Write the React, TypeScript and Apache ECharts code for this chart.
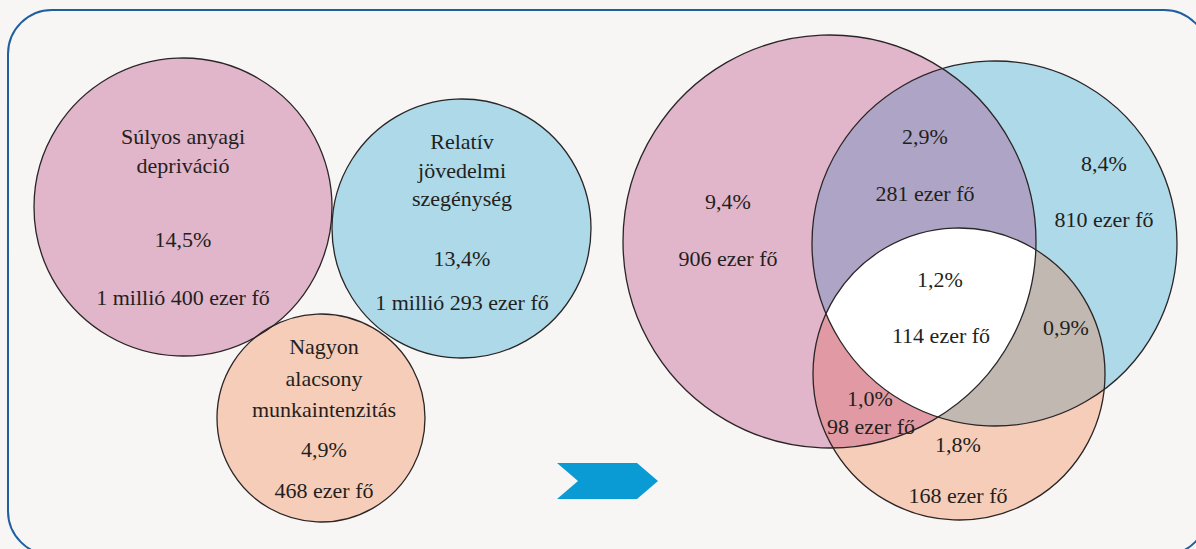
import React, { useEffect, useRef } from "react";
import * as echarts from "echarts";

// ---- data ----
const setNames = [
  ["Súlyos anyagi", "depriváció"],
  ["Relatív", "jövedelmi", "szegénység"],
  ["Nagyon", "alacsony", "munkaintenzitás"],
];
const setPercents = ["14,5%", "13,4%", "4,9%"];
const setCounts = ["1 millió 400 ezer fő", "1 millió 293 ezer fő", "468 ezer fő"];

// regions of the overlap diagram: which sets (0 = anyagi depriváció, 1 = jövedelmi szegénység, 2 = munkaintenzitás)
const regionSets = [[0], [1], [2], [0, 1], [0, 2], [1, 2], [0, 1, 2]];
const regionPercents = ["9,4%", "8,4%", "1,8%", "2,9%", "1,0%", "0,9%", "1,2%"];
const regionCounts = ["906 ezer fő", "810 ezer fő", "168 ezer fő", "281 ezer fő", "98 ezer fő", "", "114 ezer fő"];

// ---- layout (axis units = pixels) ----
const LEFT_CIRCLES = [
  [183, 207, 149],
  [461.5, 228.5, 129.5],
  [321, 418, 104],
];
const RIGHT_CIRCLES = [
  [829.5, 241.5, 206.5],
  [994.5, 243.5, 182.5],
  [959, 374, 146],
];
const SET_COLORS = ["#e1b5ca", "#add9e9", "#f6cdb8"];
const REGION_COLORS = ["", "", "", "#ada4c6", "#e19aa3", "#c1b9b1", "#ffffff"];

const LEFT_LABEL_POS = [
  { x: 183, names: [136, 165], pct: 239, cnt: 297 },
  { x: 462, names: [141, 170, 198], pct: 258, cnt: 302 },
  { x: 324, names: [346, 378, 409], pct: 449, cnt: 490 },
];
const RIGHT_LABEL_POS = [
  { pct: [728, 201], cnt: [728, 258] },
  { pct: [1104, 163], cnt: [1104, 219] },
  { pct: [958, 444], cnt: [958, 495] },
  { pct: [925, 136], cnt: [925, 193] },
  { pct: [870, 398], cnt: [871, 426] },
  { pct: [1066, 327], cnt: [0, 0] },
  { pct: [940, 279], cnt: [941, 335] },
];

const TEXT_COLOR = "#231f20";
const STROKE = "#2a2526";
const FONT = "'Liberation Serif', 'Times New Roman', 'DejaVu Serif', serif";

function regionPoints(cs: number[][]): number[][] {
  const pts: number[][] = [];
  const N = 1440;
  cs.forEach((c, i) => {
    for (let k = 0; k < N; k++) {
      const t = (2 * Math.PI * k) / N;
      const x = c[0] + c[2] * Math.cos(t);
      const y = c[1] + c[2] * Math.sin(t);
      let ok = true;
      for (let j = 0; j < cs.length; j++) {
        if (j === i) continue;
        const d = cs[j];
        if (Math.hypot(x - d[0], y - d[1]) > d[2] + 1e-6) {
          ok = false;
          break;
        }
      }
      if (ok) pts.push([x, y]);
    }
  });
  let mx = 0,
    my = 0;
  pts.forEach((p) => {
    mx += p[0];
    my += p[1];
  });
  mx /= pts.length;
  my /= pts.length;
  pts.sort((a, b) => Math.atan2(a[1] - my, a[0] - mx) - Math.atan2(b[1] - my, b[0] - mx));
  return pts;
}

type Fill = { kind: "circle"; c: number[]; color: string } | { kind: "poly"; pts: number[][]; color: string };

export default function App() {
  const ref = useRef<HTMLDivElement>(null);
  useEffect(() => {
    if (!ref.current) return;
    const chart = echarts.init(ref.current, undefined, { renderer: "svg" });

    const fills: Fill[] = [];
    LEFT_CIRCLES.forEach((c, i) => fills.push({ kind: "circle", c, color: SET_COLORS[i] }));
    RIGHT_CIRCLES.forEach((c, i) => fills.push({ kind: "circle", c, color: SET_COLORS[i] }));
    regionSets.forEach((s, i) => {
      if (s.length > 1) {
        fills.push({ kind: "poly", pts: regionPoints(s.map((k) => RIGHT_CIRCLES[k])), color: REGION_COLORS[i] });
      }
    });
    const outlines = [...LEFT_CIRCLES, ...RIGHT_CIRCLES];

    type Lbl = { text: string; x: number; y: number };
    const labels: Lbl[] = [];
    setNames.forEach((lines, i) => {
      const p = LEFT_LABEL_POS[i];
      lines.forEach((t, k) => labels.push({ text: t, x: p.x, y: p.names[k] }));
      labels.push({ text: setPercents[i], x: p.x, y: p.pct });
      labels.push({ text: setCounts[i], x: p.x, y: p.cnt });
    });
    regionSets.forEach((_, i) => {
      const p = RIGHT_LABEL_POS[i];
      labels.push({ text: regionPercents[i], x: p.pct[0], y: p.pct[1] });
      if (regionCounts[i]) labels.push({ text: regionCounts[i], x: p.cnt[0], y: p.cnt[1] });
    });

    const option: any = {
      animation: false,
      backgroundColor: "#f7f6f4",
      textStyle: { fontFamily: FONT },
      grid: { left: 0, right: 0, top: 0, bottom: 0 },
      xAxis: { type: "value", min: 0, max: 1196, show: false },
      yAxis: { type: "value", min: 0, max: 549, inverse: true, show: false },
      graphic: [
        {
          type: "rect",
          shape: { x: 8, y: 10, width: 1200, height: 545, r: 44 },
          style: { fill: "none", stroke: "#1f5fa0", lineWidth: 2 },
          silent: true,
          z: -10,
        },
        {
          type: "polygon",
          shape: {
            points: [
              [557, 463],
              [637, 463],
              [658, 481],
              [637, 499],
              [557, 499],
              [578, 481],
            ],
          },
          style: { fill: "#0a9bd5" },
          silent: true,
        },
      ],
      series: [
        {
          type: "custom",
          name: "fills",
          silent: true,
          z: 1,
          data: fills.map((_, i) => [i, 0]),
          renderItem: (params: any, api: any) => {
            const f = fills[params.dataIndex];
            if (f.kind === "circle") {
              const p = api.coord([f.c[0], f.c[1]]);
              const r = api.size([f.c[2], 0])[0];
              return { type: "circle", shape: { cx: p[0], cy: p[1], r }, style: { fill: f.color } };
            }
            return {
              type: "polygon",
              shape: { points: f.pts.map((q) => api.coord(q)) },
              style: { fill: f.color },
            };
          },
        },
        {
          type: "custom",
          name: "outlines",
          silent: true,
          z: 2,
          data: outlines.map((_, i) => [i, 0]),
          renderItem: (params: any, api: any) => {
            const c = outlines[params.dataIndex];
            const p = api.coord([c[0], c[1]]);
            const r = api.size([c[2], 0])[0];
            return {
              type: "circle",
              shape: { cx: p[0], cy: p[1], r },
              style: { fill: "none", stroke: STROKE, lineWidth: 1.3 },
            };
          },
        },
        {
          type: "custom",
          name: "labels",
          silent: true,
          z: 3,
          data: labels.map((_, i) => [i, 0]),
          renderItem: (params: any, api: any) => {
            const l = labels[params.dataIndex];
            const p = api.coord([l.x, l.y]);
            return {
              type: "text",
              x: p[0],
              y: p[1],
              style: {
                text: l.text,
                fill: TEXT_COLOR,
                fontSize: 22,
                fontFamily: FONT,
                align: "center",
                verticalAlign: "middle",
              },
            };
          },
        },
      ],
    };
    chart.setOption(option);
    return () => chart.dispose();
  }, []);
  return (
    <div
      ref={ref}
      style={{ position: "fixed", left: 0, top: 0, width: 1196, height: 549, background: "#f7f6f4" }}
    />
  );
}
